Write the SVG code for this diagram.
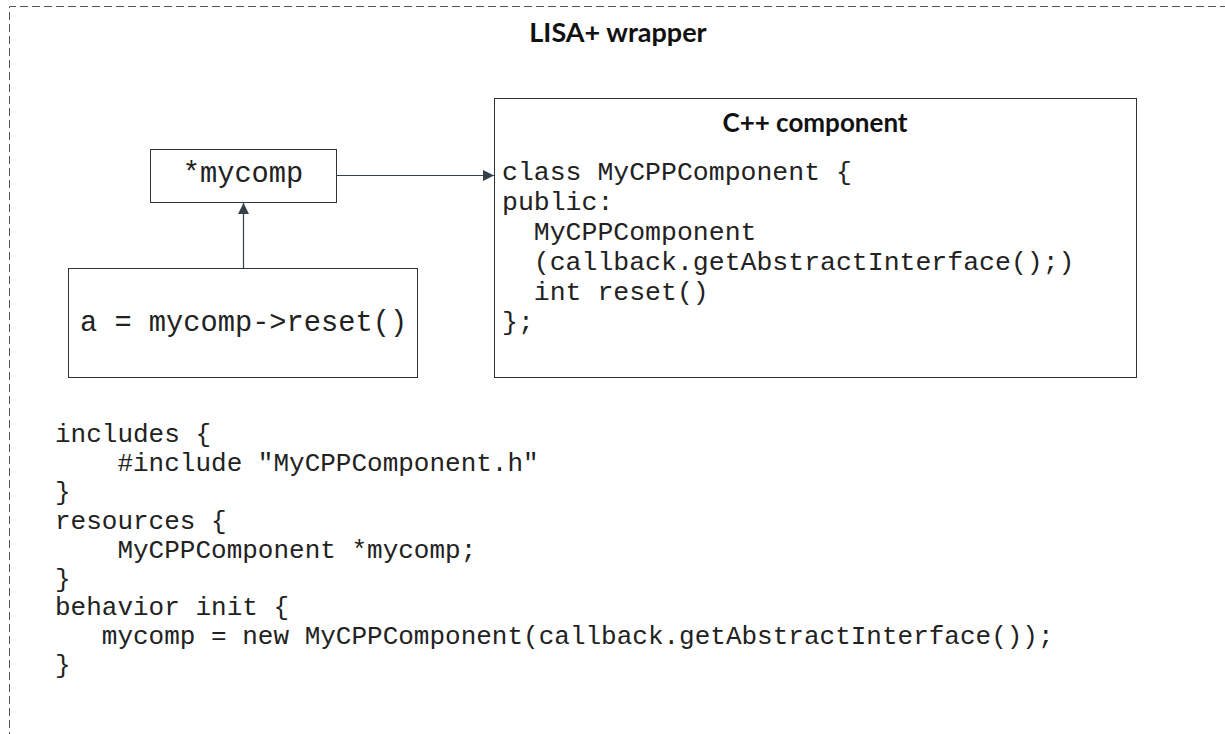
<svg xmlns="http://www.w3.org/2000/svg" width="1225" height="734" viewBox="0 0 1225 734">
<style>
.box{fill:#fff;stroke:#333;stroke-width:1}
.code{font-family:"Courier New","Liberation Mono",monospace;fill:#222;white-space:pre}
.title{font-family:Lato,"Liberation Sans",sans-serif;font-weight:bold;fill:#111}
.conn{stroke:#36404a;stroke-width:1.2;fill:none}
</style>
<defs>
<marker id="ah" viewBox="0 0 10 10" refX="10" refY="5" markerWidth="11" markerHeight="11" markerUnits="userSpaceOnUse" orient="auto">
<path d="M0,0 L10,5 L0,10 z" fill="#36404a"/>
</marker>
</defs>
<rect width="1225" height="734" fill="#fff"/>
<g id="wrapper">
<path d="M9.5,740 V6.5 H1230" fill="none" stroke="#555" stroke-width="1" stroke-dasharray="8,4"/>
<text class="title" x="618" y="42" font-size="27" text-anchor="middle">LISA+ wrapper</text>
</g>
<g id="mycomp">
<rect class="box" x="150.5" y="149.5" width="186" height="53"/>
<text class="code" x="243" y="182" font-size="28.7" text-anchor="middle">*mycomp</text>
</g>
<g id="reset">
<rect class="box" x="68.5" y="268.5" width="349" height="109"/>
<text class="code" x="80" y="331" font-size="28.7">a = mycomp-&gt;reset()</text>
</g>
<g id="cpp">
<rect class="box" x="494.5" y="98.5" width="642" height="279"/>
<text class="title" x="815" y="132" font-size="26" text-anchor="middle">C++ component</text>
<text class="code" font-size="26.5">
<tspan x="502" y="180">class MyCPPComponent {</tspan>
<tspan x="502" y="210">public:</tspan>
<tspan x="502" y="240">  MyCPPComponent</tspan>
<tspan x="502" y="270">  (callback.getAbstractInterface();)</tspan>
<tspan x="502" y="300">  int reset()</tspan>
<tspan x="502" y="330">};</tspan>
</text>
</g>
<g id="code">
<text class="code" font-size="26">
<tspan x="55" y="442">includes {</tspan>
<tspan x="55" y="471">    #include "MyCPPComponent.h"</tspan>
<tspan x="55" y="500">}</tspan>
<tspan x="55" y="529">resources {</tspan>
<tspan x="55" y="558">    MyCPPComponent *mycomp;</tspan>
<tspan x="55" y="587">}</tspan>
<tspan x="55" y="615">behavior init {</tspan>
<tspan x="55" y="644">   mycomp = new MyCPPComponent(callback.getAbstractInterface());</tspan>
<tspan x="55" y="673">}</tspan>
</text>
</g>
<g id="connectors">
<path class="conn" d="M336.5,175.5 H494" marker-end="url(#ah)"/>
<path class="conn" d="M243.5,268.5 V203" marker-end="url(#ah)"/>
</g>
</svg>
